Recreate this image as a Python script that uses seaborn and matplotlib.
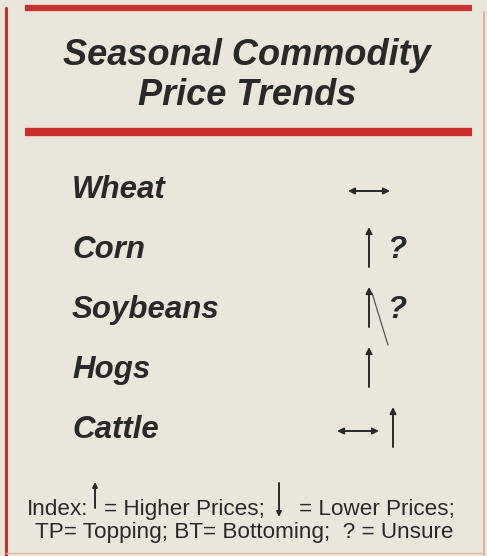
import matplotlib
matplotlib.use("Agg")
import matplotlib.pyplot as plt
import seaborn as sns

# table content
commodities = ["Wheat", "Corn", "Soybeans", "Hogs", "Cattle"]
trend_marks = [["flat"], ["up", "?"], ["up", "?"], ["up"], ["flat", "up"]]
title_lines = ["Seasonal Commodity", "Price Trends"]
index_parts = ["Index:", "= Higher Prices;", "= Lower Prices;"]
footer_line = "TP= Topping; BT= Bottoming;  ? = Unsure"

BG = "#ebe6dc"
INK = "#2b2927"
RED = "#c9302b"

sns.set_theme(style="white", rc={"axes.facecolor": BG, "figure.facecolor": BG})
plt.rcParams["font.family"] = ["Liberation Sans", "DejaVu Sans"]

fig = plt.figure(figsize=(4.87, 5.56), dpi=100)
ax = fig.add_axes([0, 0, 1, 1])
ax.set_xlim(0, 487)
ax.set_ylim(556, 0)
ax.axis("off")

# frame: red rules and borders
ax.plot([25, 472], [8, 8], color=RED, lw=4.5, solid_capstyle="butt")
ax.plot([25, 472], [132, 132], color=RED, lw=6, solid_capstyle="butt")
ax.plot([6, 6], [8, 556], color=RED, lw=2.2)
ax.plot([484, 484], [12, 556], color="#e0a79a", lw=1.2)
ax.plot([6, 484], [553, 553], color="#e3b3a8", lw=1.0)

# title
for i, line in enumerate(title_lines):
    ax.text(247, 65 + 40 * i, line, ha="center", va="baseline", fontsize=26,
            fontweight="bold", fontstyle="italic", color=INK)

def arrow(x0, y0, x1, y1, style="-|>", scale=9):
    ax.annotate("", xy=(x1, y1), xytext=(x0, y0),
                arrowprops=dict(arrowstyle=style, lw=1.4, color=INK,
                                mutation_scale=scale, shrinkA=0, shrinkB=0))

# rows
for i, (name, marks) in enumerate(zip(commodities, trend_marks)):
    base = 198 + 60 * i
    ax.text(72, base, name, ha="left", va="baseline", fontsize=22.5,
            fontweight="bold", fontstyle="italic", color=INK)
    x = 369 if marks[0] == "up" else 348
    if len(marks) == 2 and marks[1] == "up":
        x = 337
    for m in marks:
        if m == "flat":
            arrow(x, base - 7, x + 42, base - 7, style="<|-|>")
            x += 56
        elif m == "up":
            arrow(x, base + 9, x, base - 31)
            x += 24
        else:
            ax.text(x - 6, base, "?", ha="left", va="baseline", fontsize=22.5,
                    fontweight="bold", fontstyle="italic", color=INK)

# stray pencil stroke on soybeans arrow
ax.plot([372, 388], [293, 345], color="#5b5550", lw=0.9)

# index / legend
ax.text(27, 515, index_parts[0], ha="left", va="baseline", fontsize=16.2, color=INK)
arrow(95, 508, 95, 482, scale=7)
ax.text(104, 515, index_parts[1], ha="left", va="baseline", fontsize=16.2, color=INK)
arrow(279, 483, 279, 517, scale=7)
ax.text(299, 515, index_parts[2], ha="left", va="baseline", fontsize=16.2, color=INK)
ax.text(244, 538, footer_line, ha="center", va="baseline", fontsize=16.2, color=INK)

fig.savefig("out.png", dpi=100, facecolor=BG)
